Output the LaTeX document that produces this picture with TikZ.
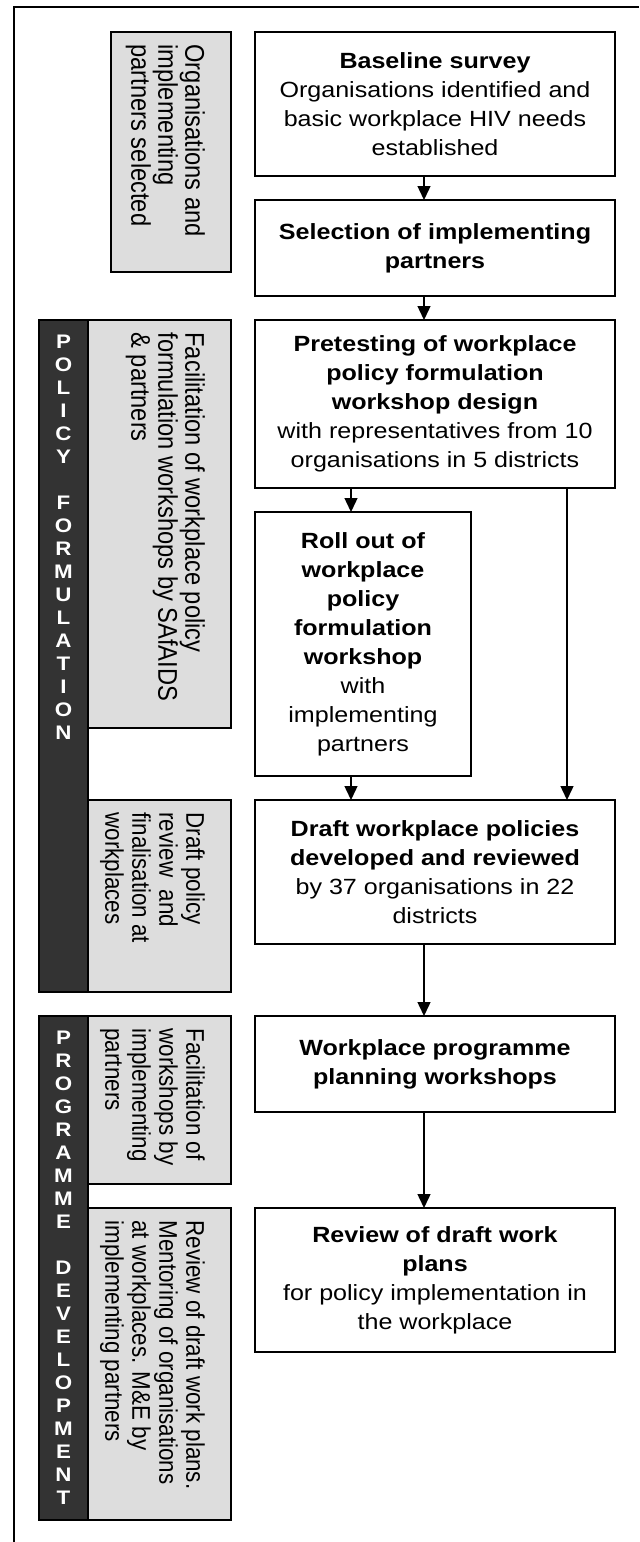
\documentclass[tikz,border=0pt]{standalone}
\usepackage{fontspec}
\setmainfont{Liberation Sans}[FakeStretch=1.14]
\newfontfamily\sidefont{Liberation Sans}
\usepackage{tikz}
\usetikzlibrary{arrows.meta, positioning}
\definecolor{PanelGrey}{rgb}{0.867, 0.867, 0.867}
\definecolor{BarGrey}{rgb}{0.2, 0.2, 0.2}

\begin{document}
\begin{tikzpicture}[%
	stage/.style={draw, line width=0.9pt, outer sep=0pt, minimum width=180pt, inner sep=2pt, align=center, font=\fontsize{11pt}{14.5pt}\selectfont},%
	panel/.style={draw, line width=0.9pt, outer sep=0pt, fill=PanelGrey, minimum width=71.5pt, inner sep=0pt},%
	bar/.style={draw, line width=0.9pt, outer sep=0pt, fill=BarGrey, minimum width=24.5pt, inner sep=0pt},%
	side/.style={rotate=-90, yscale=1.14, anchor=north west, align=left, inner sep=0pt, outer sep=0pt, font=\sidefont\fontsize{11.2pt}{11.85pt}\selectfont},%
	bigside/.style={side, font=\sidefont\fontsize{11.85pt}{11.85pt}\selectfont},%
	letters/.style={anchor=north, align=center, inner sep=0pt, outer sep=0pt, text=white, font=\bfseries\fontsize{9.8pt}{11.5pt}\selectfont},%
	arr/.style={line width=0.7pt, -{Triangle[length=7pt, width=6.5pt]}},%
	]
	\useasboundingbox (0,0) rectangle (319.5pt,-771pt);
	\draw[line width=1pt] (7pt,-771pt) -- (7pt,-3.5pt) -- (319.5pt,-3.5pt);

	% main column
	\node[stage, minimum height=72pt, anchor=north west] (survey) at (127.5pt,-16pt) {\textbf{Baseline survey}\\Organisations identified and\\basic workplace HIV needs\\established};
	\node[stage, minimum height=48pt, below=12pt of survey] (select) {\textbf{Selection of implementing}\\\textbf{partners}};
	\node[stage, minimum height=84pt, below=12pt of select] (pretest) {\textbf{Pretesting of workplace}\\\textbf{policy formulation}\\\textbf{workshop design}\\with representatives from 10\\organisations in 5 districts};
	\node[stage, minimum width=108pt, minimum height=132pt, below right=12pt and 0pt of pretest.south west] (rollout) {\textbf{Roll out of}\\\textbf{workplace}\\\textbf{policy}\\\textbf{formulation}\\\textbf{workshop}\\with\\implementing\\partners};
	\node[stage, minimum height=72pt, below right=12pt and 0pt of rollout.south west] (drafts) {\textbf{Draft workplace policies}\\\textbf{developed and reviewed}\\by 37 organisations in 22\\districts};
	\node[stage, minimum height=48pt, below=36pt of drafts] (planning) {\textbf{Workplace programme}\\\textbf{planning workshops}};
	\node[stage, minimum height=72pt, below=48pt of planning] (review) {\textbf{Review of draft work}\\\textbf{plans}\\for policy implementation in\\the workplace};

	% side panels
	\node[panel, minimum width=60pt, minimum height=120pt, left=12pt of survey.north west, anchor=north east] (sidesurvey) {};
	\node[panel, minimum height=204pt, left=12pt of pretest.north west, anchor=north east] (sidepolicy) {};
	\node[panel, minimum height=96pt, left=12pt of drafts.north west, anchor=north east] (sidedrafts) {};
	\node[bar, minimum height=336pt, left=0pt of sidepolicy.north west, anchor=north east] (barpolicy) {};
	\node[panel, minimum height=84pt, left=12pt of planning.north west, anchor=north east] (sideplanning) {};
	\node[panel, minimum height=156pt, left=12pt of review.north west, anchor=north east] (sidereview) {};
	\node[bar, minimum height=252pt, left=0pt of sideplanning.north west, anchor=north east] (barprogramme) {};

	\node[bigside] (notesurvey) at ([xshift=-13pt, yshift=-6.25pt]sidesurvey.north east) {Organisations and\\implementing\\partners selected};
	\node[bigside] (notepolicy) at ([xshift=-13pt, yshift=-6.25pt]sidepolicy.north east) {Facilitation of workplace policy\\formulation workshops by SAfAIDS\\\& partners};
	\node[side] (notedrafts) at ([xshift=-13pt, yshift=-6.25pt]sidedrafts.north east) {Draft policy\\review~~and\\finalisation at\\workplaces};
	\node[side] (noteplanning) at ([xshift=-13pt, yshift=-6.25pt]sideplanning.north east) {Facilitation of\\workshops by\\implementing\\partners};
	\node[side] (notereview) at ([xshift=-13pt, yshift=-6.25pt]sidereview.north east) {Review of draft work plans.\\Mentoring of organisations\\at workplaces. M\&E by\\implementing partners};

	\node[letters] (wordpolicy) at ([yshift=-7.5pt]barpolicy.north) {P\\O\\L\\I\\C\\Y\\[11.5pt]F\\O\\R\\M\\U\\L\\A\\T\\I\\O\\N};
	\node[letters] (wordprogramme) at ([yshift=-7.5pt]barprogramme.north) {P\\R\\O\\G\\R\\A\\M\\M\\E\\[11.5pt]D\\E\\V\\E\\L\\O\\P\\M\\E\\N\\T};

	% arrows
	\draw[arr] ([xshift=-5.5pt]survey.south) -- ([xshift=-5.5pt]select.north);
	\draw[arr] ([xshift=-5.5pt]select.south) -- ([xshift=-5.5pt]pretest.north);
	\draw[arr] ([xshift=48pt]pretest.south west) -- ([xshift=48pt]rollout.north west);
	\draw[arr] ([xshift=-24pt]pretest.south east) -- ([xshift=-24pt]drafts.north east);
	\draw[arr] ([xshift=48pt]rollout.south west) -- ([xshift=48pt]drafts.north west);
	\draw[arr] ([xshift=-5.5pt]drafts.south) -- ([xshift=-5.5pt]planning.north);
	\draw[arr] ([xshift=-5.5pt]planning.south) -- ([xshift=-5.5pt]review.north);
\end{tikzpicture}
\end{document}
